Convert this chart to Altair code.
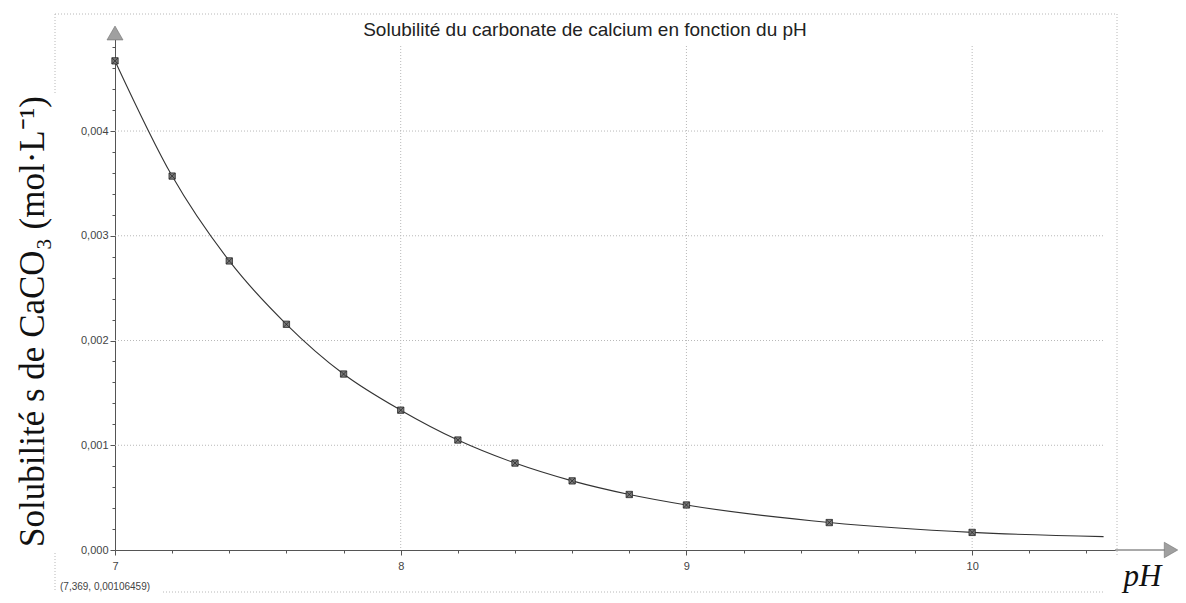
import altair as alt
import pandas as pd

# ---- data ----
ph_points = [7.0, 7.2, 7.4, 7.6, 7.8, 8.0, 8.2, 8.4, 8.6, 8.8, 9.0, 9.5, 10.0]
s_points = [0.00467, 0.00357, 0.00276, 0.002155, 0.00168, 0.001335, 0.00105,
            0.00083, 0.00066, 0.00053, 0.00043, 0.000262, 0.000168]
curve_end_ph = [10.46]
curve_end_s = [0.000128]
grid_y = [0.001, 0.002, 0.003, 0.004]
grid_x = [8, 9, 10]
x_ticks = [round(7 + 0.2 * i, 1) for i in range(18)]
y_ticks = [round(0.0002 * i, 4) for i in range(25)]

title_text = "Solubilité du carbonate de calcium en fonction du pH"
y_title = "Solubilité s de CaCO₃ (mol·L⁻¹)"
x_title = "pH"
cursor_text = "(7,369, 0,00106459)"

# ---- layout ----
W, H = 1000, 517
xscale = alt.Scale(domain=[7.0, 10.5], nice=False, zero=False)
yscale = alt.Scale(domain=[0.0, 0.004936], nice=False, zero=False)

major_x = "abs(datum.value - round(datum.value)) < 1e-6"
major_y = "abs(datum.value * 1000 - round(datum.value * 1000)) < 1e-6"

AX = "#555555"
GRID = "#b8b8b8"

x_axis = alt.Axis(
    values=x_ticks,
    labelExpr=f"{major_x} ? format(datum.value, 'd') : ''",
    tickSize={"condition": {"test": major_x, "value": 5}, "value": 3},
    tickColor=AX, domainColor=AX, domainWidth=1, tickWidth=1,
    labelFont="Liberation Sans", labelFontSize=11, labelColor="#444444",
    labelPadding=5, labelFlush=False, labelOverlap=False, grid=False,
    title=x_title, titleFont="Liberation Serif", titleFontStyle="italic",
    titleFontWeight="normal", titleFontSize=31, titleColor="#111111",
    titleX=1008, titleY=35, titleAlign="left", titleBaseline="alphabetic",
    titleAngle=0,
)
y_axis = alt.Axis(
    values=y_ticks,
    labelExpr=f"{major_y} ? replace(format(datum.value, '.3f'), '.', ',') : ''",
    tickSize={"condition": {"test": major_y, "value": 5}, "value": 3},
    tickColor=AX, domainColor=AX, domainWidth=1, tickWidth=1,
    labelFont="Liberation Sans", labelFontSize=11, labelColor="#444444",
    labelPadding=2, labelFlush=False, labelOverlap=False, grid=False,
    title=y_title, titleFont="Liberation Serif", titleFontWeight="normal",
    titleFontSize=35, titleColor="#111111", titleAngle=270,
    titleX=-83, titleY=288, titleAlign="center", titleBaseline="middle",
)

X = alt.X("ph:Q", scale=xscale, axis=x_axis)
Y = alt.Y("s:Q", scale=yscale, axis=y_axis)

pts = pd.DataFrame({"ph": ph_points, "s": s_points})
curve = pd.DataFrame({"ph": ph_points + curve_end_ph, "s": s_points + curve_end_s})
one = pd.DataFrame({"k": [0]})

hgrid = alt.Chart(pd.DataFrame({"s": grid_y})).mark_rule(
    color=GRID, strokeDash=[1, 2], strokeWidth=1
).encode(y=Y, x=alt.value(0), x2=alt.value(988))

vgrid = alt.Chart(pd.DataFrame({"ph": grid_x})).mark_rule(
    color=GRID, strokeDash=[1, 2], strokeWidth=1
).encode(x=X, y=alt.value(13), y2=alt.value(H))


def hrule(x1, x2, y, color=GRID, dash=(1, 2)):
    return alt.Chart(one).mark_rule(color=color, strokeDash=list(dash), strokeWidth=1).encode(
        x=alt.value(x1), x2=alt.value(x2), y=alt.value(y))


def vrule(x, y1, y2, color=GRID, dash=(1, 2)):
    return alt.Chart(one).mark_rule(color=color, strokeDash=list(dash), strokeWidth=1).encode(
        x=alt.value(x), y=alt.value(y1), y2=alt.value(y2))


frame = [
    hrule(-60, 1002, -19),
    vrule(1002, -19, 522),
    vrule(-60, -19, 62),
    vrule(-60, 520, 559),
    hrule(48, 988, 559),
]

x_ext = alt.Chart(one).mark_rule(color=AX, strokeWidth=1).encode(
    x=alt.value(1000), x2=alt.value(1052), y=alt.value(H))

line = alt.Chart(curve).mark_line(interpolate="monotone", color="#333333", strokeWidth=1.1).encode(
    x=X, y=Y)

sq = alt.Chart(pts).mark_point(
    shape="square", filled=True, size=40, fill="#7a7a7a", stroke="#2a2a2a",
    strokeWidth=0.8, opacity=1
).encode(x=X, y=Y)

xs = alt.Chart(pts).mark_point(
    shape="M-1,-1L1,1M-1,1L1,-1", filled=False, size=34, stroke="#1e1e1e",
    strokeWidth=0.7, opacity=1
).encode(x=X, y=Y)

arrow_up = alt.Chart(one).mark_point(
    shape="triangle-up", filled=True, size=256, fill="#a0a0a0", stroke="#707070",
    strokeWidth=0.6, opacity=1
).encode(x=alt.value(0), y=alt.value(0))

arrow_right = alt.Chart(one).mark_point(
    shape="triangle-right", filled=True, size=240, fill="#a0a0a0", stroke="#707070",
    strokeWidth=0.6, opacity=1
).encode(x=alt.value(1056), y=alt.value(H))

cursor = alt.Chart(pd.DataFrame({"t": [cursor_text]})).mark_text(
    align="left", baseline="alphabetic", font="Liberation Sans", fontSize=10, color="#444444"
).encode(text="t:N", x=alt.value(-55), y=alt.value(557))

title = alt.Chart(pd.DataFrame({"t": [title_text]})).mark_text(
    align="center", baseline="alphabetic", font="Liberation Sans", fontSize=19, color="#222222"
).encode(text="t:N", x=alt.value(470), y=alt.value(3))

chart = alt.layer(
    hgrid, vgrid, *frame, x_ext, line, sq, xs, arrow_up, arrow_right, cursor, title
).properties(
    width=W, height=H,
    padding={"left": 107, "top": 25, "right": 63, "bottom": 43},
    autosize=alt.AutoSizeParams(type="none"),
    background="white",
).configure_view(stroke=None)

chart.save("out.html", embed_options={"renderer": "svg", "actions": False})
